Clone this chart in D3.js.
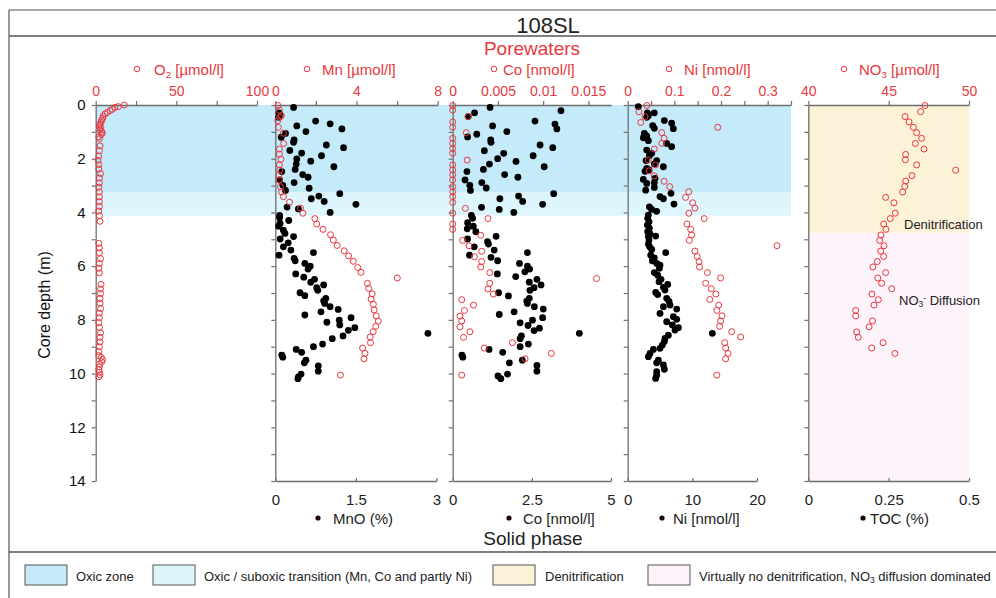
<!DOCTYPE html>
<html><head><meta charset="utf-8">
<script src="https://cdn.jsdelivr.net/npm/d3@7"></script>
<style>body{margin:0;background:#fff}svg{display:block}text{font-family:"Liberation Sans",Arial,sans-serif}</style>
</head><body><svg id="c" width="996" height="598"></svg>
<script>
// ---------- DATA: [depth (m), value] ----------
const o2Pore = [[0.00,17.7],[0.06,14.0],[0.09,11.9],[0.16,10.3],[0.21,8.9],[0.28,7.2],[0.33,5.8],[0.41,4.7],[0.5,4.3],[0.56,3.7],[0.65,3.3],[0.72,2.7],[0.78,2.3],[0.85,3.0],[0.93,2.7],[0.99,3.7],[1.04,4.1],[1.1,3.5],[1.18,1.9],[1.25,2.3],
[1.52,2.7],[1.7,2.3],[1.9,1.9],[2.06,1.5],[2.22,1.9],[2.38,1.9],[2.55,3.0],[2.72,2.3],[2.9,2.3],[3.06,1.9],[3.24,2.3],[3.42,2.3],[3.6,2.3],[3.78,2.3],[3.95,1.9],[4.12,2.3],[4.33,2.7],
[5.15,1.9],[5.32,2.3],[5.5,2.3],[5.72,3.0],[5.9,2.3],[6.08,1.9],[6.25,2.3],[6.68,3.3],[6.85,3.0],[7.02,3.0],[7.2,2.7],[7.38,2.7],[7.58,3.0],[7.75,2.3],[7.92,2.3],[8.1,1.9],[8.28,2.3],[8.48,3.0],[8.65,2.7],[8.82,2.7],[9.0,2.3],[9.18,1.9],[9.33,1.9],[9.4,3.5],[9.48,4.2],[9.56,3.7],[9.65,2.3],[9.75,2.3],[9.85,1.9],[9.95,2.3],[10.05,2.7],[10.12,1.9]];

const mnPore = [[0.02,0.13],[0.19,0.2],[0.40,0.3],[0.45,0.22],[0.58,0.12],[0.83,0.15],[1.05,0.4],[1.43,0.41],[1.64,0.2],[1.83,0.2],[2.02,0.28],[2.23,0.2],[2.42,0.22],[2.61,0.18],[2.79,0.2],[3.04,0.25],[3.24,0.31],[3.41,0.4],[3.62,0.7],[3.84,1.24],[4.03,1.36],[4.23,1.95],[4.43,2.04],[4.63,2.35],[4.83,2.72],[5.03,2.86],[5.23,3.05],[5.43,3.39],[5.62,3.61],[5.82,3.84],[6.05,4.06],[6.23,4.22],[6.44,6.01],[6.64,4.54],[6.83,4.6],[7.03,4.77],[7.23,4.72],[7.42,4.83],[7.63,4.87],[7.85,4.97],[8.05,5.07],[8.24,4.95],[8.44,4.82],[8.64,4.67],[8.85,4.69],[9.05,4.3],[9.25,4.42],[9.45,4.37],[10.06,3.21]];

const mnoSolid = [[0.09,0.34],[0.29,0.07],[0.37,0.09],[0.46,0.06],[0.60,0.75],[0.70,1.02],[0.78,0.40],[0.89,1.24],[0.99,0.57],[1.06,0.19],[1.20,0.11],[1.30,0.35],[1.39,0.34],[1.49,0.95],[1.59,1.27],[1.69,0.27],[1.79,0.49],[1.89,0.86],[2.01,0.40],[2.09,0.66],[2.20,0.39],[2.30,1.09],[2.40,0.37],[2.48,0.12],[2.59,0.51],[2.69,0.61],[2.79,0.08],[2.89,0.35],[2.99,0.14],[3.10,0.63],[3.18,0.19],[3.30,1.20],[3.39,0.81],[3.49,0.67],[3.59,0.91],[3.70,1.50],[3.80,0.22],[3.87,0.43],[4.00,1.02],[4.11,0.08],[4.20,0.08],[4.30,0.25],[4.41,0.09],[4.51,0.06],[4.66,0.15],[4.78,0.18],[4.90,0.34],[4.99,0.09],[5.13,0.24],[5.28,0.15],[5.40,0.29],[5.50,0.71],[5.59,0.07],[5.71,0.35],[5.80,0.37],[5.90,0.55],[6.00,0.65],[6.11,0.61],[6.29,0.38],[6.41,0.53],[6.49,0.73],[6.60,0.66],[6.70,0.90],[6.80,0.77],[6.90,0.79],[6.99,0.46],[7.10,0.55],[7.20,0.94],[7.29,0.90],[7.39,0.92],[7.51,1.02],[7.61,1.17],[7.70,0.85],[7.82,0.55],[7.92,1.41],[8.01,1.19],[8.09,0.96],[8.19,1.20],[8.29,1.48],[8.39,1.36],[8.50,2.84],[8.60,1.26],[8.70,1.06],[8.90,0.88],[9.00,0.71],[9.10,0.39],[9.21,0.49],[9.31,0.12],[9.39,0.14],[9.50,0.57],[9.60,0.54],[9.71,0.80],[9.91,0.80],[10.02,0.48],[10.12,0.43],[10.19,0.42]];

const coPore = [[0.02,0],[0.19,0],[0.43,0.0017],[0.63,0],[0.83,0],[1.03,0.0015],[1.24,0],[1.43,0],[1.62,0],[1.80,0],[2.05,0.0016],[2.23,0],[2.42,0],[2.60,0],[2.79,0],[3.04,0],[3.23,0],[3.41,0],[3.63,0],[3.85,0.0014],[4.03,0],[4.23,0.0039],[4.43,0],[4.63,0],[4.85,0.0031],[5.04,0.0011],[5.24,0.0018],[5.45,0.0032],[5.65,0.0024],[5.83,0.0032],[6.03,0.0031],[6.24,0.0041],[6.46,0.0159],[6.64,0.0041],[6.85,0.0039],[7.04,0.0045],[7.25,0.0010],[7.45,0.0023],[7.65,0.0013],[7.86,0.0008],[8.04,0.0010],[8.26,0.0008],[8.44,0.0019],[8.65,0.0012],[8.85,0.0066],[9.05,0.0035],[9.25,0.0109],[9.45,0.0080],[10.06,0.0010]];

const coSolid = [[0.09,1.18],[0.29,0.69],[0.43,0.49],[0.21,3.42],[0.60,2.6],[0.71,3.23],[0.89,3.29],[0.78,1.26],[0.99,1.71],[1.09,0.76],[1.19,0.47],[1.30,1.2],[1.39,1.21],[1.49,2.76],[1.59,3.16],[1.70,1.0],[1.80,1.61],[1.89,2.54],[2.00,1.42],[2.10,2.0],[2.20,1.16],[2.30,2.89],[2.40,0.97],[2.48,0.45],[2.59,1.64],[2.69,2.06],[2.79,0.39],[2.89,0.92],[2.99,0.54],[3.09,1.06],[3.18,0.56],[3.30,3.19],[3.39,2.08],[3.49,1.49],[3.59,2.21],[3.70,2.84],[3.81,0.91],[3.89,1.47],[4.00,1.93],[4.11,0.59],[4.22,0.63],[4.38,0.47],[4.51,0.65],[4.61,0.46],[4.72,0.73],[4.89,1.37],[4.99,0.47],[5.09,1.1],[5.18,1.13],[5.28,0.68],[5.40,1.31],[5.50,2.36],[5.59,0.53],[5.67,1.21],[5.80,1.42],[5.90,2.11],[6.00,2.36],[6.11,2.43],[6.21,2.28],[6.29,1.41],[6.39,1.99],[6.49,2.66],[6.60,2.42],[6.70,2.79],[6.80,2.57],[6.90,2.44],[6.99,1.45],[7.11,1.76],[7.20,2.42],[7.30,2.34],[7.39,2.36],[7.51,2.58],[7.60,2.86],[7.70,1.94],[7.80,1.47],[7.92,2.84],[8.01,2.52],[8.11,2.13],[8.21,2.38],[8.31,2.74],[8.40,2.57],[8.50,4.0],[8.60,2.17],[8.70,2.13],[8.90,2.39],[9.00,2.13],[9.10,1.15],[9.21,1.58],[9.31,0.29],[9.39,0.32],[9.50,2.2],[9.60,1.79],[9.70,2.66],[9.91,2.66],[10.02,1.73],[10.09,1.43],[10.19,1.52]];

const niPore = [[0.02,0.041],[0.25,0.024],[0.43,0.037],[0.65,0.028],[0.83,0.193],[1.03,0.073],[1.24,0.078],[1.43,0.073],[1.64,0.057],[2.05,0.044],[2.23,0.060],[2.45,0.046],[2.64,0.057],[2.84,0.078],[3.04,0.090],[3.23,0.131],[3.44,0.124],[3.64,0.139],[3.84,0.144],[4.03,0.131],[4.23,0.164],[4.43,0.127],[4.63,0.135],[4.84,0.137],[5.04,0.132],[5.24,0.320],[5.44,0.144],[5.64,0.149],[5.83,0.153],[6.03,0.154],[6.24,0.171],[6.44,0.199],[6.64,0.167],[6.84,0.179],[7.04,0.189],[7.24,0.176],[7.45,0.195],[7.65,0.191],[7.85,0.202],[8.04,0.199],[8.24,0.197],[8.44,0.223],[8.64,0.242],[8.85,0.208],[9.05,0.210],[9.25,0.215],[9.45,0.210],[10.06,0.191]];

const niSolid = [[0.06,1.65],[0.29,3.04],[0.40,3.2],[0.46,2.94],[0.29,4.12],[0.58,5.67],[0.68,6.8],[0.88,7.06],[0.77,3.87],[0.87,4.12],[1.06,2.58],[1.15,2.94],[1.33,3.2],[1.22,2.42],[1.43,6.03],[1.55,6.8],[1.68,2.94],[1.80,3.71],[1.89,3.35],[2.07,2.84],[2.07,4.48],[2.20,4.12],[2.30,5.52],[2.36,2.94],[2.42,3.3],[2.47,2.68],[2.77,2.42],[2.73,4.23],[2.89,4.12],[2.92,2.94],[3.07,4.12],[3.17,2.78],[3.29,6.7],[3.41,5.0],[3.49,5.52],[3.69,7.16],[3.79,3.35],[3.89,3.71],[3.96,4.48],[4.10,3.2],[4.22,3.09],[4.35,3.3],[4.47,3.04],[4.59,3.35],[4.72,3.09],[4.80,3.45],[4.90,3.2],[4.88,4.33],[5.03,3.3],[5.18,3.2],[5.28,3.4],[5.38,3.71],[5.50,5.88],[5.59,3.56],[5.69,4.12],[5.80,3.81],[5.90,4.48],[5.96,5.0],[6.08,4.9],[6.24,4.12],[6.34,4.64],[6.49,5.15],[6.58,4.85],[6.68,6.19],[6.79,5.52],[6.89,5.77],[6.98,4.33],[7.06,4.64],[7.20,6.03],[7.31,6.39],[7.45,6.55],[7.51,5.52],[7.60,7.58],[7.76,5.0],[7.88,7.06],[7.98,7.58],[8.07,6.03],[8.19,6.91],[8.29,7.84],[8.38,7.32],[8.50,13.09],[8.57,6.29],[8.69,5.77],[8.81,5.67],[8.94,5.36],[9.06,5.0],[9.10,3.97],[9.25,3.45],[9.37,3.2],[9.50,4.74],[9.60,4.48],[9.68,5.52],[9.84,5.67],[9.93,4.48],[10.06,4.48],[10.18,4.33]];

const no3Pore = [[0.02,47.26],[0.25,46.99],[0.43,46.02],[0.63,46.27],[0.83,46.54],[1.03,46.74],[1.24,47.05],[1.43,46.66],[1.64,47.2],[1.84,46.06],[2.04,46.04],[2.23,46.74],[2.43,49.17],[2.63,46.45],[2.83,46.06],[3.03,46.0],[3.24,45.87],[3.44,44.81],[3.64,45.33],[4.03,45.41],[4.23,45.1],[4.43,44.69],[4.63,44.83],[4.84,44.52],[5.04,44.44],[5.24,44.71],[5.44,44.5],[5.64,44.69],[5.83,44.29],[6.03,44.02],[6.24,44.81],[6.44,44.32],[6.64,44.56],[6.84,45.19],[7.04,43.96],[7.25,44.36],[7.45,44.09],[7.65,42.95],[7.85,42.95],[8.04,44.0],[8.26,43.78],[8.45,43.01],[8.65,43.11],[8.85,44.65],[9.05,43.94],[9.25,45.39]];

const depthTicks = [0,1,2,3,4,5,6,7,8,9,10,11,12,13,14];
const depthLabels = [0,2,4,6,8,10,12,14];
const zones = [
  {name:"Oxic zone", top:0, bottom:3.26, color:"#c5ebfa", group:"metal"},
  {name:"Oxic / suboxic transition (Mn, Co and partly Ni)", top:3.26, bottom:4.12, color:"#ddf5fd", group:"metal"},
  {name:"Denitrification", top:0, bottom:4.78, color:"#fcf2d8", group:"no3"},
  {name:"Virtually no denitrification, NO3 diffusion dominated", top:4.78, bottom:14, color:"#fdf3fa", group:"no3"}
];

// ---------- DRAW ----------
const RED = "#e8383d";
const svg = d3.select("#c");
const Y = d3.scaleLinear().domain([0,14]).range([105,481]);

const panels = [
  {top:{dom:[0,100], rng:[95.7,257], ticks:[0,25,50,75,100], labels:[0,50,100]}, pore:o2Pore},
  {top:{dom:[0,8], rng:[275.3,437.7], ticks:[0,2,4,6,8], labels:[0,4,8]},
   bot:{dom:[0,3], rng:[275.3,436.5], ticks:[0,1.5,3]}, pore:mnPore, solid:mnoSolid},
  {top:{dom:[0,0.0175], rng:[452.7,611], ticks:[0,0.005,0.01,0.015], labels:[0,0.005,0.01,0.015]},
   bot:{dom:[0,5], rng:[452.7,611], ticks:[0,2.5,5]}, pore:coPore, solid:coSolid},
  {top:{dom:[0,0.35], rng:[627.7,791], ticks:[0,0.05,0.1,0.15,0.2,0.25,0.3,0.35], labels:[0,0.1,0.2,0.3]},
   bot:{dom:[0,20], rng:[627.7,757], ticks:[0,10,20]}, pore:niPore, solid:niSolid},
  {top:{dom:[40,50], rng:[808.3,969], ticks:[40,45,50], labels:[40,45,50]},
   bot:{dom:[0,0.5], rng:[808.3,969], ticks:[0,0.25,0.5]}, pore:no3Pore}
];
panels.forEach(p=>{
  p.xt = d3.scaleLinear().domain(p.top.dom).range(p.top.rng);
  if(p.bot) p.xb = d3.scaleLinear().domain(p.bot.dom).range(p.bot.rng);
});

// frame lines
const frame = svg.append("g").attr("stroke","#555").attr("stroke-width",1.2);
frame.append("line").attr("x1",9).attr("x2",996).attr("y1",10).attr("y2",10);
frame.append("line").attr("x1",9).attr("x2",996).attr("y1",36).attr("y2",36).attr("stroke-width",1.6);
frame.append("line").attr("x1",9).attr("x2",9).attr("y1",10).attr("y2",598);
frame.append("line").attr("x1",9).attr("x2",996).attr("y1",552).attr("y2",552).attr("stroke-width",1.6);

// zones
const metalX0 = panels[0].xt(0), metalX1 = panels[3].xt(0.35);
const no3X0 = panels[4].xt(40), no3X1 = panels[4].xt(50);
svg.append("g").selectAll("rect").data(zones).join("rect")
  .attr("x", d=> d.group==="metal"?metalX0:no3X0)
  .attr("width", d=> d.group==="metal"?metalX1-metalX0:no3X1-no3X0)
  .attr("y", d=>Y(d.top)).attr("height", d=>Y(d.bottom)-Y(d.top))
  .attr("fill", d=>d.color);

// axes
function styleAxis(g, textColor, fs){
  g.select(".domain").attr("stroke","#6e6e6e").attr("stroke-width",1.3);
  g.selectAll(".tick line").attr("stroke","#6e6e6e").attr("stroke-width",1.2);
  g.selectAll("text").attr("fill",textColor).style("font-size",fs+"px").style("font-family",'"Liberation Sans",Arial,sans-serif');
}
panels.forEach((p,i)=>{
  const gt = svg.append("g").attr("transform",`translate(0,${Y(0)})`)
    .call(d3.axisTop(p.xt).tickValues(p.top.ticks).tickSize(4).tickSizeOuter(0).tickPadding(5)
      .tickFormat(v=> p.top.labels.includes(v)? String(v) : ""));
  styleAxis(gt, RED, 14);
  const gl = svg.append("g").attr("transform",`translate(${p.xt.range()[0]},0)`)
    .call(d3.axisLeft(Y).tickValues(depthTicks).tickSize(4).tickSizeOuter(0).tickPadding(6)
      .tickFormat(v=> i===0 && depthLabels.includes(v) ? String(v) : ""));
  styleAxis(gl, "#111", 15);
  if(p.bot){
    const gb = svg.append("g").attr("transform",`translate(0,${Y(14)})`)
      .call(d3.axisBottom(p.xb).tickValues(p.bot.ticks).tickSize(-3).tickSizeOuter(0).tickPadding(13)
        .tickFormat(v=>String(v)));
    styleAxis(gb, "#222", 15);
  }
});

// points: solid (black) then porewater (red open)
panels.forEach(p=>{
  if(p.solid){
    svg.append("g").selectAll("circle").data(p.solid).join("circle")
      .attr("cx", d=>p.xb(d[1])).attr("cy", d=>Y(d[0])).attr("r",3.4).attr("fill","#000");
  }
  svg.append("g").selectAll("circle").data(p.pore).join("circle")
    .attr("cx", d=>p.xt(d[1])).attr("cy", d=>Y(d[0])).attr("r",3)
    .attr("fill","none").attr("stroke",RED).attr("stroke-width",1);
});

// titles
svg.append("text").attr("x",548).attr("y",33).attr("text-anchor","middle").style("font-size","22px").attr("fill","#222").text("108SL");
svg.append("text").attr("x",532).attr("y",55).attr("text-anchor","middle").style("font-size","19px").attr("fill",RED).text("Porewaters");
svg.append("text").attr("x",533).attr("y",545).attr("text-anchor","middle").style("font-size","19px").attr("fill","#222").text("Solid phase");
svg.append("text").attr("transform","translate(50,305) rotate(-90)").attr("text-anchor","middle").style("font-size","16px").attr("fill","#111").text("Core depth (m)");

// top series labels
const topLabels = [
  {cx:137, tx:154, parts:[["O",""],["2","sub"],[" [µmol/l]",""]]},
  {cx:307, tx:322, parts:[["Mn [µmol/l]",""]]},
  {cx:494, tx:503, parts:[["Co [nmol/l]",""]]},
  {cx:669, tx:684, parts:[["Ni [nmol/l]",""]]},
  {cx:844, tx:859, parts:[["NO",""],["3","sub"],[" [µmol/l]",""]]}
];
function addParts(t, parts){
  parts.forEach(([s,k])=>{
    const ts = t.append("tspan").text(s);
    if(k==="sub") ts.attr("baseline-shift","-25%").style("font-size","0.65em");
    if(k==="sup") ts.attr("baseline-shift","45%").style("font-size","0.65em");
  });
}
topLabels.forEach(l=>{
  svg.append("circle").attr("cx",l.cx).attr("cy",69).attr("r",2.8).attr("fill","none").attr("stroke",RED).attr("stroke-width",1);
  const t = svg.append("text").attr("x",l.tx).attr("y",74.5).style("font-size","15px").attr("fill",RED);
  addParts(t,l.parts);
});
const botLabels = [
  {cx:318, tx:333, s:"MnO (%)"},
  {cx:509, tx:523, s:"Co [nmol/l]"},
  {cx:662, tx:673, s:"Ni [nmol/l]"},
  {cx:863, tx:870, s:"TOC (%)"}
];
botLabels.forEach(l=>{
  svg.append("circle").attr("cx",l.cx).attr("cy",518).attr("r",2.6).attr("fill","#1a0404");
  svg.append("text").attr("x",l.tx).attr("y",523.5).style("font-size","15px").attr("fill","#222").text(l.s);
});

// annotations panel 5
svg.append("text").attr("x",904).attr("y",228.5).style("font-size","13px").attr("fill","#222").text("Denitrification");
{
  const t = svg.append("text").attr("x",899).attr("y",305).style("font-size","13px").attr("fill","#222");
  addParts(t,[["NO",""],["3","sub"],["-","sup"],[" Diffusion",""]]);
}

// legend
const legendPos = [{bx:25, tx:76},{bx:153, tx:204},{bx:493, tx:545},{bx:648, tx:699}];
zones.forEach((z,i)=>{
  const lp = legendPos[i];
  svg.append("rect").attr("x",lp.bx).attr("y",565).attr("width",42).attr("height",20)
    .attr("fill",z.color).attr("stroke","#555").attr("stroke-width",1);
  const t = svg.append("text").attr("x",lp.tx).attr("y",581).style("font-size","13px").attr("fill","#222");
  if(z.name.includes("NO3")){
    const [a,b] = z.name.split("NO3");
    addParts(t,[[a+"NO",""],["3","sub"],[b,""]]);
  } else t.text(z.name);
});
</script></body></html>
